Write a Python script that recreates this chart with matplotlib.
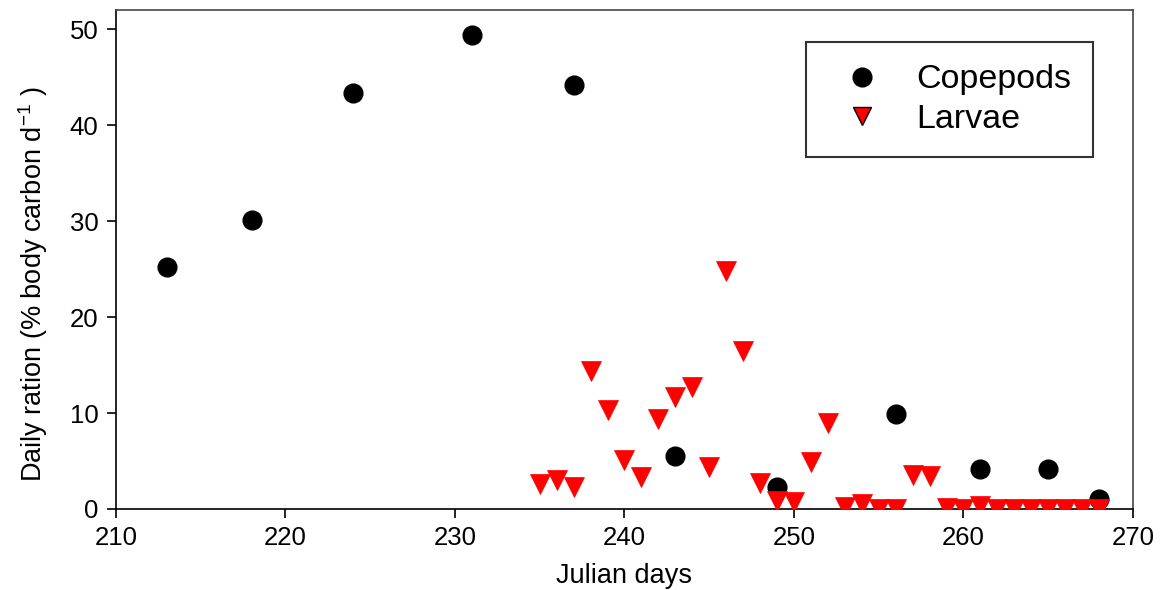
import matplotlib
matplotlib.use('Agg')
import matplotlib.pyplot as plt
from matplotlib.lines import Line2D

plt.rcParams['font.family'] = ['Liberation Sans', 'DejaVu Sans']
plt.rcParams['mathtext.default'] = 'regular'

# Copepods daily ration
cop_days = [213, 218, 224, 231, 237, 243, 249, 256, 261, 265, 268]
cop_ration = [25.2, 30.1, 43.4, 49.4, 44.2, 5.5, 2.3, 9.9, 4.2, 4.2, 1.0]

# Larvae daily ration
lar_days = [235, 236, 237, 238, 239, 240, 241, 242, 243, 244, 245, 246,
            247, 248, 249, 250, 251, 252, 253, 254, 255, 256, 257, 258,
            259, 260, 261, 262, 263, 264, 265, 266, 267, 268]
lar_ration = [2.6, 3.0, 2.3, 14.4, 10.3, 5.1, 3.3, 9.4, 11.7, 12.7, 4.4, 24.8,
              16.5, 2.7, 0.8, 0.7, 4.9, 9.0, 0.25, 0.55, 0.05, 0.05, 3.5, 3.4,
              0.1, 0.05, 0.35, 0.0, 0.0, 0.0, 0.0, 0.0, 0.0, 0.0]

x_ticks = [210, 220, 230, 240, 250, 260, 270]
y_ticks = [0, 10, 20, 30, 40, 50]

fig = plt.figure(figsize=(11.62, 5.90), dpi=100)
ax = fig.add_axes([0.0998, 0.1373, 0.8752, 0.8457])

ax.plot(cop_days, cop_ration, 'o', color='black', ms=13.5, mec='black', zorder=3)
ax.plot(lar_days, lar_ration, 'v', color='red', ms=14, mec='red', mew=0.5, zorder=4)

ax.set_xlim(210, 270)
ax.set_ylim(0, 52)
ax.set_xticks(x_ticks)
ax.set_yticks(y_ticks)
ax.tick_params(direction='out', length=6.5, width=1.2, labelsize=18.5, pad=6,
               top=False, right=False)

for side in ['left', 'bottom']:
    ax.spines[side].set_linewidth(1.2)
    ax.spines[side].set_color('black')
for side in ['top', 'right']:
    ax.spines[side].set_linewidth(1.2)
    ax.spines[side].set_color('#444444')

ax.set_xlabel('Julian days', fontsize=19.5, labelpad=9)
ax.set_ylabel('Daily ration (% body carbon d$^{-1}$ )', fontsize=19.5)
ax.yaxis.set_label_coords(-0.065, 0.45)

handles = [
    Line2D([], [], ls='none', marker='o', color='black', ms=13.5),
    Line2D([], [], ls='none', marker='v', mfc='red', mec='black', mew=1, ms=13),
]
leg = ax.legend(handles, ['Copepods', 'Larvae'], loc='upper right',
                bbox_to_anchor=(0.961, 0.936), borderaxespad=0,
                fontsize=24.5, frameon=True, fancybox=False,
                handletextpad=0.62, borderpad=0.66, labelspacing=0.24,
                handlelength=1.95)
leg.get_frame().set_edgecolor('black')
leg.get_frame().set_linewidth(1.5)

fig.savefig('out.png', dpi=100)
